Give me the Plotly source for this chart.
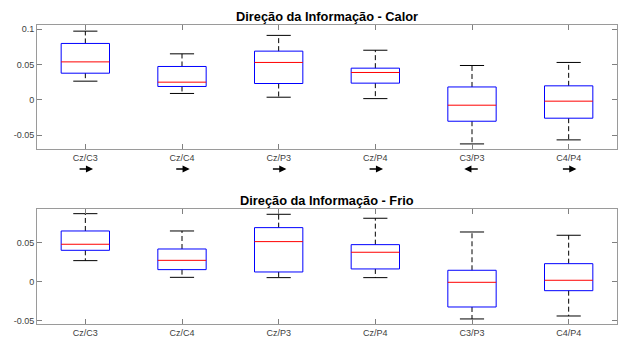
import plotly.graph_objects as go

categories = ["Cz/C3", "Cz/C4", "Cz/P3", "Cz/P4", "C3/P3", "C4/P4"]
arrow_dir = [1, 1, 1, 1, -1, 1]

# Calor (top panel)
calor_low = [0.0262, 0.0088, 0.0035, 0.0015, -0.0626, -0.0569]
calor_q1 = [0.0375, 0.0187, 0.0229, 0.0234, -0.0305, -0.0262]
calor_med = [0.0535, 0.0248, 0.0527, 0.0385, -0.0078, -0.0021]
calor_q3 = [0.0796, 0.0470, 0.0687, 0.0446, 0.0180, 0.0196]
calor_high = [0.0970, 0.0649, 0.0910, 0.0700, 0.0484, 0.0527]

# Frio (bottom panel)
frio_low = [0.0271, 0.0056, 0.0052, 0.0052, -0.0480, -0.0442]
frio_q1 = [0.0404, 0.0155, 0.0125, 0.0164, -0.0326, -0.0116]
frio_med = [0.0482, 0.0275, 0.0516, 0.0379, -0.0008, 0.0018]
frio_q3 = [0.0653, 0.0421, 0.0696, 0.0477, 0.0147, 0.0232]
frio_high = [0.0876, 0.0653, 0.0868, 0.0817, 0.0640, 0.0598]

titles = ["Direção da Informação - Calor", "Direção da Informação - Frio"]

BOX_W = 0.5
CAP_W = 0.25
positions = list(range(1, len(categories) + 1))

fig = go.Figure()


def add_panel(low, q1, med, q3, high, xa, ya):
    bx, by, mx, my, wx, wy, cx, cy = [], [], [], [], [], [], [], []
    for p, lo, a, m, b, hi in zip(positions, low, q1, med, q3, high):
        l, r = p - BOX_W / 2, p + BOX_W / 2
        bx += [l, r, r, l, l, None]
        by += [a, a, b, b, a, None]
        mx += [l, r, None]
        my += [m, m, None]
        wx += [p, p, None, p, p, None]
        wy += [b, hi, None, a, lo, None]
        cx += [p - CAP_W / 2, p + CAP_W / 2, None, p - CAP_W / 2, p + CAP_W / 2, None]
        cy += [hi, hi, None, lo, lo, None]
    common = dict(mode="lines", xaxis=xa, yaxis=ya, showlegend=False, hoverinfo="skip")
    fig.add_trace(go.Scatter(x=wx, y=wy, line=dict(color="#000000", width=1, dash="5px,3px"), **common))
    fig.add_trace(go.Scatter(x=cx, y=cy, line=dict(color="#000000", width=1), **common))
    fig.add_trace(go.Scatter(x=bx, y=by, line=dict(color="#0000ff", width=1), **common))
    fig.add_trace(go.Scatter(x=mx, y=my, line=dict(color="#ff0000", width=1), **common))


add_panel(calor_low, calor_q1, calor_med, calor_q3, calor_high, "x", "y")
add_panel(frio_low, frio_q1, frio_med, frio_q3, frio_high, "x2", "y2")

W, H = 624, 338
def px_y(top, bottom):
    return [(H - bottom) / H, (H - top) / H]

x_dom = [37 / W, 617 / W]
axis_font = dict(family="Liberation Sans, Arial, sans-serif", size=9, color="#404040")
xcommon = dict(range=[0.5, 6.5], tickvals=positions, ticktext=categories, ticks="inside",
               ticklen=5, tickcolor="#808080", mirror="ticks", showline=True, linecolor="#9a9a9a",
               linewidth=1, showgrid=False, zeroline=False, tickfont=axis_font, domain=x_dom,
               automargin=False)
ycommon = dict(ticks="inside", ticklen=5, tickcolor="#808080", mirror="ticks", showline=True,
               linecolor="#9a9a9a", linewidth=1, showgrid=False, zeroline=False, tickfont=axis_font,
               automargin=False)

fig.update_layout(
    width=W, height=H, margin=dict(l=0, r=0, t=0, b=0),
    paper_bgcolor="white", plot_bgcolor="white",
    xaxis=dict(**xcommon, anchor="y"),
    yaxis=dict(**ycommon, range=[-0.0698, 0.1057], tickvals=[-0.05, 0, 0.05, 0.1],
               ticktext=["-0.05", "0", "0.05", "0.1"], domain=px_y(25, 149), anchor="x"),
    xaxis2=dict(**xcommon, anchor="y2"),
    yaxis2=dict(**ycommon, range=[-0.0549, 0.094], tickvals=[-0.05, 0, 0.05],
                ticktext=["-0.05", "0", "0.05"], domain=px_y(208.7, 324.3), anchor="x2"),
)

title_font = dict(family="Liberation Sans, Arial, sans-serif", size=12.8, color="#000000")
for t, ty in zip(titles, [16, 200]):
    fig.add_annotation(text="<b>%s</b>" % t, x=(x_dom[0] + x_dom[1]) / 2, y=(H - ty) / H,
                       xref="paper", yref="paper", showarrow=False, font=title_font,
                       xanchor="center", yanchor="middle")

# direction arrows under the top panel's category labels
for p, d in zip(positions, arrow_dir):
    fig.add_annotation(x=p + d * 0.08, y=(H - 169) / H, xref="x", yref="paper",
                       ax=-d * 15, ay=0, axref="pixel", ayref="pixel", text="",
                       showarrow=True, arrowhead=2, arrowsize=1.1, arrowwidth=1.3,
                       arrowcolor="#000000")

fig.write_html("out.html", config={"displayModeBar": False},
               post_script="document.body.style.margin='0';document.body.style.overflow='hidden';")
